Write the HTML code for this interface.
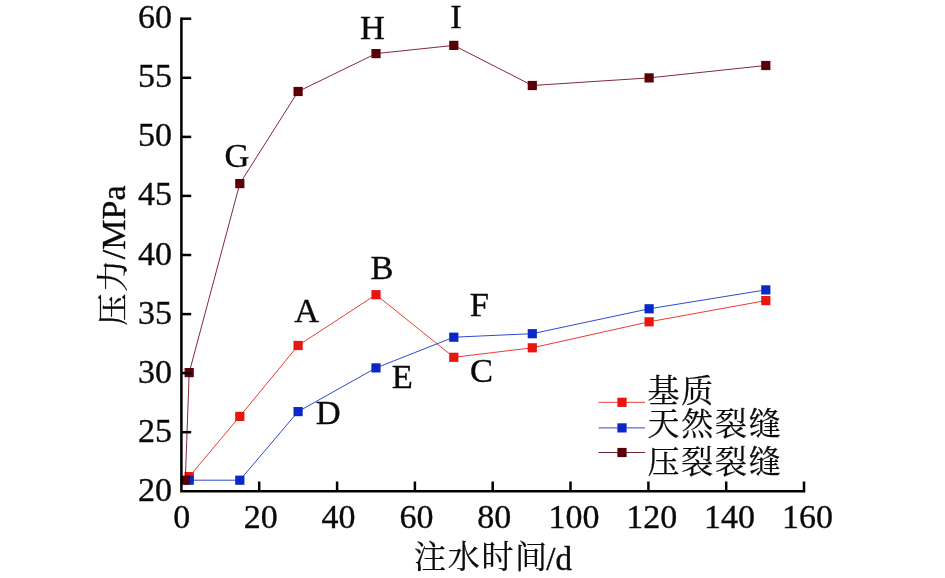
<!DOCTYPE html>
<html lang="zh"><head><meta charset="utf-8"><title>压力-注水时间</title>
<style>
html,body{margin:0;padding:0;background:#fff;}
body{width:945px;height:578px;overflow:hidden;}
svg{display:block;}
text{font-family:"Liberation Serif", "Noto Serif CJK SC", serif;font-size:33px;fill:#0a0a0a;stroke:#0a0a0a;stroke-width:0.35px;}
.cjk{font-size:32px;letter-spacing:1.7px;stroke-width:0.25px;}
#ptlabels text{font-size:34.5px;}
#ylabels text,#xlabels text{font-size:34px;}
</style></head><body>
<svg width="945" height="578" viewBox="0 0 945 578">
<rect width="945" height="578" fill="#fff"/>
<g id="data">
<polyline fill="none" stroke="#e8160f" stroke-width="0.85" points="189.2,476.6 239.8,416.4 298.1,345.5 376.0,294.7 453.8,357.3 532.3,347.8 649.1,321.8 765.8,300.6"/>
<rect x="184.6" y="472.0" width="9.2" height="9.2" fill="#e8160f"/>
<rect x="235.2" y="411.8" width="9.2" height="9.2" fill="#e8160f"/>
<rect x="293.5" y="340.9" width="9.2" height="9.2" fill="#e8160f"/>
<rect x="371.4" y="290.1" width="9.2" height="9.2" fill="#e8160f"/>
<rect x="449.2" y="352.7" width="9.2" height="9.2" fill="#e8160f"/>
<rect x="527.7" y="343.2" width="9.2" height="9.2" fill="#e8160f"/>
<rect x="644.5" y="317.2" width="9.2" height="9.2" fill="#e8160f"/>
<rect x="761.2" y="296.0" width="9.2" height="9.2" fill="#e8160f"/>
<polyline fill="none" stroke="#0a28c8" stroke-width="0.85" points="189.2,480.2 239.8,480.2 298.1,411.6 376.0,367.9 453.8,337.2 532.3,333.7 649.1,308.8 765.8,289.9"/>
<rect x="184.6" y="475.6" width="9.2" height="9.2" fill="#0a28c8"/>
<rect x="235.2" y="475.6" width="9.2" height="9.2" fill="#0a28c8"/>
<rect x="293.5" y="407.0" width="9.2" height="9.2" fill="#0a28c8"/>
<rect x="371.4" y="363.3" width="9.2" height="9.2" fill="#0a28c8"/>
<rect x="449.2" y="332.6" width="9.2" height="9.2" fill="#0a28c8"/>
<rect x="527.7" y="329.1" width="9.2" height="9.2" fill="#0a28c8"/>
<rect x="644.5" y="304.2" width="9.2" height="9.2" fill="#0a28c8"/>
<rect x="761.2" y="285.3" width="9.2" height="9.2" fill="#0a28c8"/>
<polyline fill="none" stroke="#6c0410" stroke-width="0.85" points="185.3,480.2 189.2,372.6 239.8,183.6 298.1,91.5 376.0,53.6 453.8,45.4 532.3,85.5 649.1,77.9 765.8,65.5"/>
<rect x="180.7" y="475.6" width="9.2" height="9.2" fill="#5a0008"/>
<rect x="184.6" y="368.0" width="9.2" height="9.2" fill="#5a0008"/>
<rect x="235.2" y="179.0" width="9.2" height="9.2" fill="#5a0008"/>
<rect x="293.5" y="86.9" width="9.2" height="9.2" fill="#5a0008"/>
<rect x="371.4" y="49.0" width="9.2" height="9.2" fill="#5a0008"/>
<rect x="449.2" y="40.8" width="9.2" height="9.2" fill="#5a0008"/>
<rect x="527.7" y="80.9" width="9.2" height="9.2" fill="#5a0008"/>
<rect x="644.5" y="73.3" width="9.2" height="9.2" fill="#5a0008"/>
<rect x="761.2" y="60.9" width="9.2" height="9.2" fill="#5a0008"/>
</g>
<g id="axes" stroke="#000" stroke-width="2.5" fill="none">
<path d="M181.4 17.4 V491.3 H805.2"/>
<path d="M181.4 432.2 h9.8"/>
<path d="M181.4 373.1 h9.8"/>
<path d="M181.4 314.1 h9.8"/>
<path d="M181.4 255.0 h9.8"/>
<path d="M181.4 195.9 h9.8"/>
<path d="M181.4 136.9 h9.8"/>
<path d="M181.4 77.8 h9.8"/>
<path d="M181.4 18.7 h9.8"/>
<path d="M259.2 491.3 v-9.8"/>
<path d="M337.1 491.3 v-9.8"/>
<path d="M414.9 491.3 v-9.8"/>
<path d="M492.7 491.3 v-9.8"/>
<path d="M570.5 491.3 v-9.8"/>
<path d="M648.4 491.3 v-9.8"/>
<path d="M726.2 491.3 v-9.8"/>
<path d="M804.0 491.3 v-9.8"/>
</g>
<g id="ylabels" text-anchor="end">
<text x="172" y="500.8">20</text>
<text x="172" y="441.7">25</text>
<text x="172" y="382.6">30</text>
<text x="172" y="323.6">35</text>
<text x="172" y="264.5">40</text>
<text x="172" y="205.4">45</text>
<text x="172" y="146.4">50</text>
<text x="172" y="87.3">55</text>
<text x="172" y="28.2">60</text>
</g>
<g id="xlabels" text-anchor="middle">
<text x="181.7" y="527.5">0</text>
<text x="260.7" y="527.5">20</text>
<text x="338.6" y="527.5">40</text>
<text x="416.4" y="527.5">60</text>
<text x="494.2" y="527.5">80</text>
<text x="573.9" y="527.5">100</text>
<text x="651.8" y="527.5">120</text>
<text x="729.6" y="527.5">140</text>
<text x="807.4" y="527.5">160</text>
</g>
<text x="414" y="569.7"><tspan class="cjk" dy="-1.3">注水时间</tspan><tspan dy="1.3" dx="-2.5">/d</tspan></text>
<text transform="translate(124.9 325.6) rotate(-90)" style="font-size:34px"><tspan class="cjk" dy="-1.3">压力</tspan><tspan dy="1.3" dx="-1">/MPa</tspan></text>
<g id="ptlabels" text-anchor="middle">
<text x="237.0" y="166.5">G</text>
<text x="372.5" y="39.0">H</text>
<text x="456.0" y="28.0">I</text>
<text x="306.8" y="322.3">A</text>
<text x="382.0" y="278.5">B</text>
<text x="479.3" y="315.7">F</text>
<text x="481.5" y="381.8">C</text>
<text x="402.3" y="388.0">E</text>
<text x="328.3" y="424.0">D</text>
</g>
<g id="legend">
<path d="M598.5 402.3 H645" stroke="#e8160f" stroke-width="0.85" fill="none"/>
<rect x="617.4" y="397.7" width="9.2" height="9.2" fill="#e8160f"/>
<text x="647.6" y="402.1" class="cjk">基质</text>
<path d="M598.5 427.9 H645" stroke="#0a28c8" stroke-width="0.85" fill="none"/>
<rect x="617.4" y="423.3" width="9.2" height="9.2" fill="#0a28c8"/>
<text x="647.6" y="434.7" class="cjk">天然裂缝</text>
<path d="M598.5 452.5 H645" stroke="#5a0008" stroke-width="0.85" fill="none"/>
<rect x="617.4" y="447.9" width="9.2" height="9.2" fill="#5a0008"/>
<text x="647.6" y="472.5" class="cjk">压裂裂缝</text>
</g>
</svg>
</body></html>
